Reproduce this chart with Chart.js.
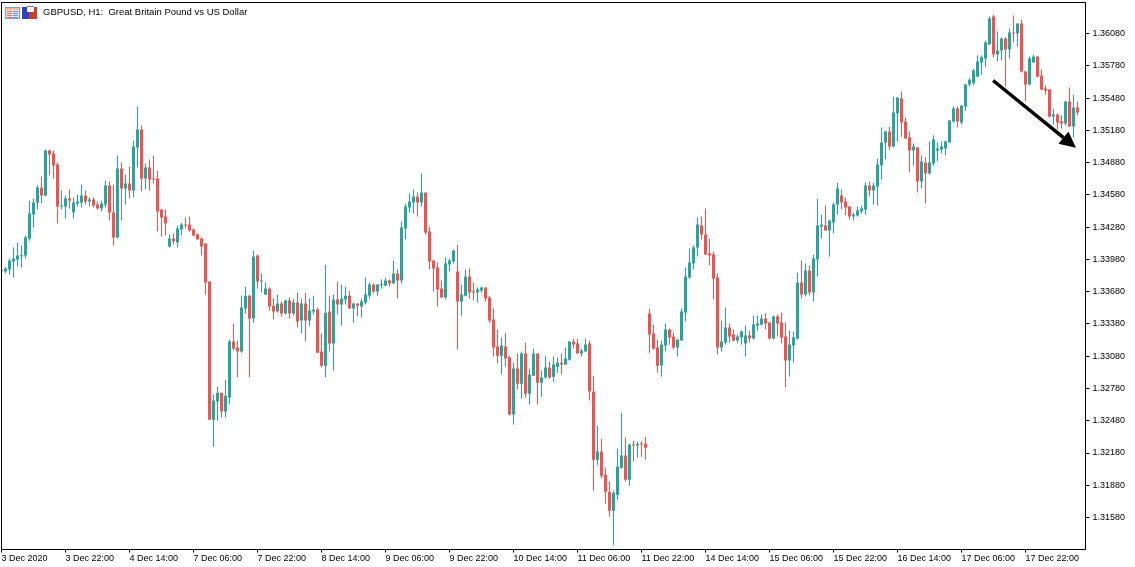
<!DOCTYPE html>
<html>
<head>
<meta charset="utf-8">
<title>GBPUSD H1</title>
<script src="https://cdn.jsdelivr.net/npm/chart.js@4"></script>
<style>
  html, body { margin: 0; padding: 0; background: #fff; }
  canvas { display: block; }
</style>
</head>
<body>
<canvas id="chart" width="1135" height="567"></canvas>
<script>
// prices are in points (1.36080 = 136080), one bar per hour
const opens = [
133876,133867,133885,133960,133978,134009,134015,134174,134397,134508,
134648,134573,134992,134964,134862,134471,134471,134546,134415,134499,
134508,134573,134518,134536,134490,134453,134490,134666,134415,134183,
134825,134639,134685,134620,135020,135187,134732,134834,134732,134732,
134443,134378,134099,134174,134136,134257,134304,134304,134257,134211,
134174,134127,133774,132490,132658,132741,132565,132695,133216,133160,
133123,133523,133643,133430,134015,133774,133653,133709,133550,133495,
133569,133476,133597,133476,133578,133411,133569,133411,133495,133513,
133123,132992,133495,133197,133606,133560,133606,133643,133523,133569,
133541,133578,133643,133746,133681,133740,133736,133783,133755,133848,
133783,134267,134462,134508,134564,134508,134601,134239,133969,133904,
133709,133625,133932,133960,133867,133588,133643,133820,133681,133671,
133690,133718,133625,133420,133169,133085,133169,133067,132537,132965,
132825,133104,132732,132899,133104,132834,132881,132974,132890,132983,
133020,133002,133048,133216,133197,133104,133123,133197,132751,132118,
132193,131979,131821,131644,131793,132044,132156,131932,132258,132249,
132267,132267,133476,133290,133160,132993,133180,133328,133263,133161,
133226,133486,133812,133942,134091,134295,134212,134035,134026,133812,
133161,133207,133347,133282,133226,133254,133198,133272,133245,133365,
133375,133431,133393,133245,133449,133393,133263,133040,133180,133245,
133765,133654,133877,133672,133979,134286,134295,134249,134323,134490,
134573,134518,134471,134378,134387,134425,134443,134666,134620,134657,
134852,135066,135169,135029,135336,135476,135262,135113,134992,135020,
134704,134880,134778,134871,134992,135001,135011,135066,135262,135383,
135252,135401,135606,135618,135680,135810,135848,135978,136238,135885,
135922,136034,135931,136089,136080,136173,135727,135606,135810,135866,
135689,135569,135559,135308,135327,135262,135243,135448,135215,135392];
const closes = [
133870,133895,133969,133988,134015,134015,134183,134406,134508,134648,
134573,134992,134955,134852,134471,134480,134546,134527,134508,134518,
134573,134518,134536,134480,134453,134499,134666,134415,134183,134825,
134639,134685,134620,135029,135187,134732,134834,134722,134722,134425,
134369,134313,134174,134146,134267,134304,134295,134248,134201,134164,
134099,133764,132490,132667,132741,132565,132713,133216,133151,133123,
133532,133643,133430,134006,133774,133783,133709,133541,133495,133569,
133476,133597,133476,133578,133402,133569,133411,133504,133513,133113,
132992,133485,133197,133606,133560,133616,133643,133523,133569,133550,
133588,133653,133746,133681,133746,133746,133783,133755,133848,133783,
134276,134471,134518,134564,134508,134601,134229,133960,133895,133699,
133625,133941,133969,134062,133588,133653,133820,133671,133671,133699,
133718,133616,133411,133160,133085,133179,133058,132537,132965,132825,
133104,132732,132909,133104,132834,132881,132974,132881,133002,133020,
133002,133058,133216,133188,133104,133132,133188,132751,132118,132193,
131969,131821,131644,131811,132053,132156,131932,132258,132249,132267,
132258,132230,133281,133151,132992,133189,133328,133254,133161,133235,
133496,133821,133951,134091,134305,134212,134026,134017,133803,133161,
133217,133347,133263,133226,133263,133310,133272,133245,133375,133384,
133431,133384,133245,133449,133384,133254,133040,133189,133254,133765,
133654,133877,133672,133989,134295,134305,134249,134342,134491,134639,
134508,134462,134378,134397,134434,134453,134666,134620,134666,134862,
135066,135169,135029,135345,135485,135252,135104,134992,135029,134704,
134890,134778,134880,135094,135011,135029,135076,135271,135383,135262,
135410,135606,135649,135736,135820,135860,135996,136220,135885,135922,
136034,135931,136089,136080,136173,135727,135606,135848,135866,135680,
135559,135550,135308,135327,135252,135243,135448,135215,135392,135345];
const highs = [
133890,133907,133988,134090,134136,134108,134201,134527,134546,134666,
134750,135001,135001,134992,134880,134620,134573,134629,134555,134583,
134676,134620,134555,134555,134518,134527,134713,134704,134676,134945,
134880,134769,134843,135085,135401,135224,134871,134908,134945,134806,
134443,134443,134211,134220,134295,134322,134369,134378,134267,134220,
134183,134130,133774,132723,132797,132741,132862,133234,133383,133225,
133643,133727,133653,134062,134025,133848,133764,133718,133616,133653,
133588,133606,133625,133616,133671,133616,133671,133616,133643,133532,
133290,133932,133643,133653,133774,133746,133727,133690,133578,133569,
133616,133811,133764,133755,133746,133792,133811,133792,133969,133885,
134332,134499,134592,134629,134601,134778,134601,134285,133972,133950,
133783,133997,133988,134071,134118,133746,133885,133895,133764,133718,
133727,133718,133643,133523,133327,133253,133299,133085,133020,133104,
133123,133206,132965,133151,133104,132946,133085,133030,133076,133067,
133104,133160,133220,133244,133244,133151,133244,133225,132899,132434,
132314,132044,131914,131830,132221,132555,132323,132267,132295,132286,
132286,132332,133523,133374,133234,133226,133384,133338,133300,133238,
133524,133905,134082,134110,134370,134379,134454,134175,134054,133849,
133412,133533,133384,133328,133282,133319,133365,133319,133458,133458,
133468,133477,133393,133458,133468,133486,133393,133319,133310,133858,
133970,133942,133924,134026,134546,134398,134481,134345,134509,134694,
134629,134555,134475,134415,134471,134480,134694,134704,134694,134918,
135206,135178,135215,135494,135488,135541,135299,135169,135057,135023,
134945,134927,135076,135131,135066,135076,135085,135275,135401,135401,
135413,135610,135665,135752,135875,135875,136015,136238,136257,136099,
136043,136046,136127,136247,136176,136210,135730,135866,135885,135870,
135745,135596,135563,135383,135336,135317,135451,135578,135513,135448];
const lows = [
133855,133848,133839,133811,133913,133904,133988,134155,134276,134443,
134499,134564,134759,134732,134313,134443,134360,134453,134360,134471,
134462,134490,134471,134462,134443,134425,134462,134341,134108,134174,
134341,134490,134546,134555,134834,134611,134629,134620,134685,134239,
134192,134201,134090,134118,134090,134201,134267,134239,134192,134164,
134015,133653,132490,132239,132481,132509,132509,132630,133132,132881,
133113,133476,132881,133392,133709,133671,133650,133504,133420,133485,
133448,133467,133430,133457,133346,133290,133216,133355,133467,133110,
132974,132881,133123,132946,133467,133364,133560,133520,133392,133448,
133439,133560,133616,133662,133643,133709,133736,133727,133755,133616,
133755,134164,134415,134406,134378,134471,134211,133885,133681,133541,
133625,133606,133867,133941,133141,133457,133634,133616,133597,133578,
133671,133588,133392,133076,133011,132909,132983,132528,132444,132769,
132686,132695,132630,132899,132630,132704,132872,132872,132844,132927,
132909,133002,133039,133151,133104,133076,133123,132667,131830,132072,
131942,131709,131588,131328,131746,132035,131914,131876,132100,132137,
132146,132118,133113,133141,132927,132891,133124,133189,133142,133077,
133226,133403,133803,133886,134007,134165,134020,133924,133607,133096,
133124,133189,133207,133217,133198,133189,133077,133207,133235,133319,
133365,133328,133235,133235,133263,133198,132789,132891,133021,133235,
133617,133635,133644,133589,133821,134175,134249,134007,134221,134397,
134443,134387,134350,134341,134378,134406,134397,134564,134490,134480,
134722,134908,134999,135020,135076,135122,135100,134787,134852,134601,
134639,134499,134769,134852,134890,134964,134945,135066,135252,135206,
135234,135364,135587,135600,135674,135699,135767,135975,135857,135820,
135829,135587,135848,135996,135959,135717,135448,135596,135810,135671,
135550,135513,135299,135234,135187,135197,135224,135212,135113,135317];

// one x label every 16 bars
const xTickLabels = ['3 Dec 2020', '3 Dec 22:00', '4 Dec 14:00', '7 Dec 06:00', '7 Dec 22:00', '8 Dec 14:00',
  '9 Dec 06:00', '9 Dec 22:00', '10 Dec 14:00', '11 Dec 06:00', '11 Dec 22:00', '14 Dec 14:00',
  '15 Dec 06:00', '15 Dec 22:00', '16 Dec 14:00', '17 Dec 06:00', '17 Dec 22:00'];
const xTickEvery = 16;
const yTicks = [136080, 135780, 135480, 135180, 134880, 134580, 134280, 133980,
  133680, 133380, 133080, 132780, 132480, 132180, 131880, 131580];
const yMin = 131283;
const yMax = 136368;

// drawn arrow, bar index and price of tail and tip
const arrowBars = [247.9, 268.6];
const arrowPrices = [135643, 135018];

const titleText = 'GBPUSD, H1:  Great Britain Pound vs US Dollar';
const upColor = '#26a69a';
const downColor = '#ef5350';
const axisFont = { family: '"Liberation Sans", sans-serif', size: 9 };

// two empty slots at the end so the last bar sits off the right edge
const categories = opens.map((v, i) => i).concat([270, 271]);
const barColors = opens.map((o, i) => closes[i] >= o ? upColor : downColor);

// axis box, MT5 style icons, title and the hand drawn arrow
const decorPlugin = {
  id: 'decor',
  afterDraw(chart) {
    const { ctx, chartArea: a, scales } = chart;
    ctx.save();
    ctx.strokeStyle = '#000';
    ctx.lineWidth = 1;
    ctx.strokeRect(a.left, a.top, a.right - a.left, a.bottom - a.top);

    // arrow
    const x0 = scales.x.getPixelForValue(arrowBars[0]);
    const x1 = scales.x.getPixelForValue(arrowBars[1]);
    const y0 = scales.y.getPixelForValue(arrowPrices[0]);
    const y1 = scales.y.getPixelForValue(arrowPrices[1]);
    const ang = Math.atan2(y1 - y0, x1 - x0);
    const head = 16, half = 8;
    const bx = x1 - head * Math.cos(ang), by = y1 - head * Math.sin(ang);
    ctx.lineWidth = 3.5;
    ctx.beginPath();
    ctx.moveTo(x0, y0);
    ctx.lineTo(bx, by);
    ctx.stroke();
    ctx.fillStyle = '#000';
    ctx.beginPath();
    ctx.moveTo(x1, y1);
    ctx.lineTo(bx + half * Math.sin(ang), by - half * Math.cos(ang));
    ctx.lineTo(bx - half * Math.sin(ang), by + half * Math.cos(ang));
    ctx.closePath();
    ctx.fill();

    // icon 1: little table
    ctx.fillStyle = '#8a9ac0';
    ctx.fillRect(5, 7, 15, 12);
    ctx.fillStyle = '#dfe6fa';
    ctx.fillRect(6, 8, 13, 10);
    ctx.fillStyle = '#f0c090';
    ctx.fillRect(6, 8, 13, 2);
    for (let r = 11; r < 18; r += 2) {
      ctx.fillStyle = '#f07050';
      ctx.fillRect(7, r, 5, 1);
      ctx.fillStyle = '#7090e0';
      ctx.fillRect(13, r, 5, 1);
    }
    // icon 2: blue and red blocks with a white tab
    ctx.fillStyle = '#2a45c8';
    ctx.fillRect(22, 7, 7, 12);
    ctx.fillStyle = '#c8402c';
    ctx.fillRect(29, 7, 8, 12);
    ctx.fillStyle = '#f4f4f4';
    ctx.fillRect(27, 6, 7, 6);
    ctx.fillStyle = '#808080';
    ctx.fillRect(27, 6, 7, 1);

    ctx.fillStyle = '#000';
    ctx.font = '9.5px "Liberation Sans", sans-serif';
    ctx.textAlign = 'left';
    ctx.textBaseline = 'middle';
    ctx.fillText(titleText, 43, 12.5);
    ctx.restore();
  }
};

const chart = new Chart(document.getElementById('chart'), {
  type: 'bar',
  data: {
    labels: categories,
    datasets: [
      {
        label: 'Body',
        data: opens.map((o, i) => [o, closes[i]]),
        backgroundColor: barColors,
        barThickness: 3,
        minBarLength: 1,
        inflateAmount: 0,
        grouped: false,
        order: 1
      },
      {
        label: 'Wick',
        data: lows.map((l, i) => [l, highs[i]]),
        backgroundColor: barColors,
        barThickness: 1,
        inflateAmount: 0,
        grouped: false,
        order: 2
      }
    ]
  },
  options: {
    responsive: false,
    animation: false,
    layout: { padding: { left: 1.5, top: 2.5, right: 0, bottom: 0 } },
    plugins: { legend: { display: false }, tooltip: { enabled: false }, title: { display: false } },
    scales: {
      x: {
        type: 'category',
        offset: false,
        afterBuildTicks: s => { s.ticks = s.ticks.filter((t, i) => i % xTickEvery === 0 && i / xTickEvery < xTickLabels.length); },
        afterFit: s => { s.height = 17.5; s.paddingLeft = 0; s.paddingRight = 0; },
        grid: { drawOnChartArea: false, offset: false, color: '#000', tickLength: 3 },
        border: { color: '#000' },
        ticks: {
          autoSkip: false,
          maxRotation: 0,
          minRotation: 0,
          align: 'start',
          padding: 1,
          color: '#000',
          font: axisFont,
          callback: (v, i) => xTickLabels[i]
        }
      },
      y: {
        position: 'right',
        min: yMin,
        max: yMax,
        afterBuildTicks: s => { s.ticks = yTicks.map(v => ({ value: v })); },
        afterFit: s => { s.width = 49.5; s.paddingTop = 0; s.paddingBottom = 0; },
        grid: { drawOnChartArea: false, color: '#000', tickLength: 4 },
        border: { color: '#000' },
        ticks: {
          autoSkip: false,
          padding: 3,
          color: '#000',
          font: axisFont,
          callback: v => (v / 100000).toFixed(5)
        }
      }
    }
  },
  plugins: [decorPlugin]
});
</script>
</body>
</html>
